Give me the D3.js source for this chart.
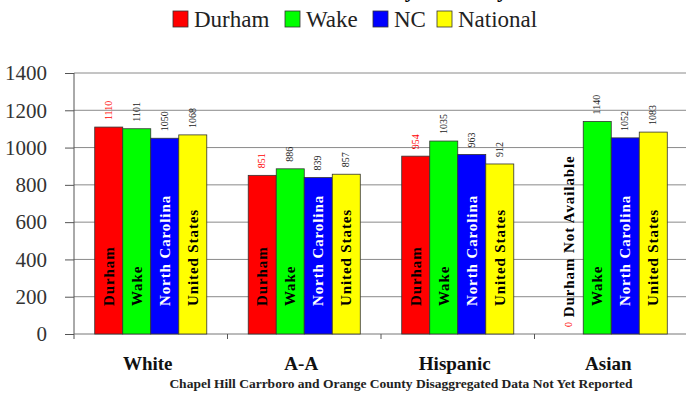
<!DOCTYPE html>
<html>
<head>
<meta charset="utf-8">
<script src="https://cdn.jsdelivr.net/npm/d3@7/dist/d3.min.js"></script>
<style>
  html, body { margin: 0; padding: 0; background: #fff; }
  svg { display: block; }
  svg text { font-family: "Liberation Serif", "Times New Roman", Tinos, "DejaVu Serif", serif; }
</style>
</head>
<body>
<svg id="chart" width="686" height="394"></svg>
<script>
// Groups and series
const categories = ["White", "A-A", "Hispanic", "Asian"];
const seriesNames = ["Durham", "Wake", "NC", "National"];
const barNames = ["Durham", "Wake", "North Carolina", "United States"];
const durham = [1110, 851, 954, 0];
const wake = [1101, 886, 1035, 1140];
const nc = [1050, 839, 963, 1052];
const national = [1068, 857, 912, 1083];
const yTicks = [0, 200, 400, 600, 800, 1000, 1200, 1400];
const titleText = "SAT Scores by Ethnicity";
const missingNote = "Durham Not Available";
const footnote = "Chapel Hill Carrboro and Orange County Disaggregated Data Not Yet Reported";

const serif = "'Liberation Serif', 'Times New Roman', Tinos, 'DejaVu Serif', serif";
const colors = ["#ff0000", "#00ff00", "#0000ff", "#ffff00"];
const insideText = ["#000", "#000", "#fff", "#000"];
const valueText = ["#ff0000", "#222", "#222", "#222"];

const series = [durham, wake, nc, national];

const svg = d3.select("#chart").attr("font-family", serif);
const m = { left: 74, right: 688, top: 73, bottom: 334 };

const y = d3.scaleLinear().domain([0, 1400]).range([m.bottom, m.top]);
const x0 = d3.scaleBand().domain(categories).range([m.left, m.right]).padding(0);
const x1 = d3.scaleBand().domain(seriesNames).range([0, x0.bandwidth()])
  .paddingInner(0).paddingOuter(0.74);

// Title (sits largely above the canvas)
svg.append("text")
  .attr("x", 508).attr("y", -3)
  .attr("text-anchor", "end")
  .attr("font-family", serif)
  .attr("font-size", 22).attr("font-weight", "bold")
  .attr("fill", "#000")
  .text(titleText);

// Legend
const legendX = [173, 285, 373, 437];
const lg = svg.append("g");
seriesNames.forEach((s, i) => {
  lg.append("rect")
    .attr("x", legendX[i]).attr("y", 11)
    .attr("width", 15).attr("height", 16)
    .attr("fill", colors[i]).attr("stroke", "#333").attr("stroke-width", 0.8);
  lg.append("text")
    .attr("x", legendX[i] + 21).attr("y", 27)
    .attr("font-family", serif)
    .attr("font-size", 23).attr("fill", "#222")
    .text(s);
});

// Gridlines
svg.append("g").selectAll("line").data(yTicks.filter(d => d > 0)).join("line")
  .attr("x1", m.left).attr("x2", m.right)
  .attr("y1", d => y(d)).attr("y2", d => y(d))
  .attr("stroke", "#8a8a8a").attr("stroke-width", 1);

// Y axis
const yAxis = svg.append("g")
  .attr("transform", `translate(${m.left},0)`)
  .call(d3.axisLeft(y).tickValues(yTicks).tickSize(9).tickPadding(18).tickFormat(d3.format("d")));
yAxis.attr("font-family", serif);
yAxis.select(".domain").remove();
yAxis.selectAll(".tick line").attr("stroke", "#555");
yAxis.selectAll(".tick text")
  .attr("font-family", serif)
  .attr("font-size", 21).attr("fill", "#333");
svg.append("line")
  .attr("x1", m.left).attr("x2", m.left)
  .attr("y1", m.top).attr("y2", m.bottom + 5)
  .attr("stroke", "#555");

// X baseline and category separators
svg.append("line")
  .attr("x1", m.left).attr("x2", m.right)
  .attr("y1", m.bottom).attr("y2", m.bottom)
  .attr("stroke", "#777");
svg.append("g").selectAll("line").data(categories.slice(1)).join("line")
  .attr("x1", d => x0(d)).attr("x2", d => x0(d))
  .attr("y1", m.bottom).attr("y2", m.bottom + 5)
  .attr("stroke", "#555");

// Bars
const groups = svg.append("g").selectAll("g").data(categories).join("g")
  .attr("transform", d => `translate(${x0(d)},0)`);

groups.each(function (cat, ci) {
  const g = d3.select(this);
  seriesNames.forEach((s, si) => {
    const v = series[si][ci];
    const bx = x1(s);
    const bw = x1.bandwidth();
    if (v > 0) {
      g.append("rect")
        .attr("x", bx).attr("y", y(v))
        .attr("width", bw).attr("height", y(0) - y(v))
        .attr("fill", colors[si]).attr("stroke", "#333").attr("stroke-width", 0.8);
      g.append("text")
        .attr("transform", `translate(${bx + bw / 2 + 5},${y(150)}) rotate(-90)`)
        .attr("font-family", serif)
        .attr("font-size", 15).attr("font-weight", "bold")
        .attr("letter-spacing", 0.9)
        .attr("fill", insideText[si])
        .text(barNames[si]);
    } else {
      g.append("text")
        .attr("transform", `translate(${bx + bw / 2 + 5},${y(90)}) rotate(-90)`)
        .attr("font-family", serif)
        .attr("font-size", 15).attr("font-weight", "bold")
        .attr("letter-spacing", 0.9)
        .attr("fill", "#000")
        .text(missingNote);
    }
    // value label above the bar
    g.append("text")
      .attr("transform", `translate(${bx + bw / 2 + 3},${y(v) - 7}) rotate(-90)`)
      .attr("font-family", serif)
      .attr("font-size", 10)
      .attr("fill", valueText[si])
      .text(v);
  });
});

// Category labels
svg.append("g").selectAll("text").data(categories).join("text")
  .attr("x", d => x0(d) + x0.bandwidth() / 2 - 3)
  .attr("y", 370)
  .attr("text-anchor", "middle")
  .attr("font-family", serif)
  .attr("font-size", 19).attr("font-weight", "bold").attr("fill", "#111")
  .text(d => d);

// Footnote
svg.append("text")
  .attr("x", 401).attr("y", 388)
  .attr("text-anchor", "middle")
  .attr("font-family", serif)
  .attr("font-size", 13.5).attr("font-weight", "bold").attr("fill", "#222")
  .text(footnote);
</script>
</body>
</html>
